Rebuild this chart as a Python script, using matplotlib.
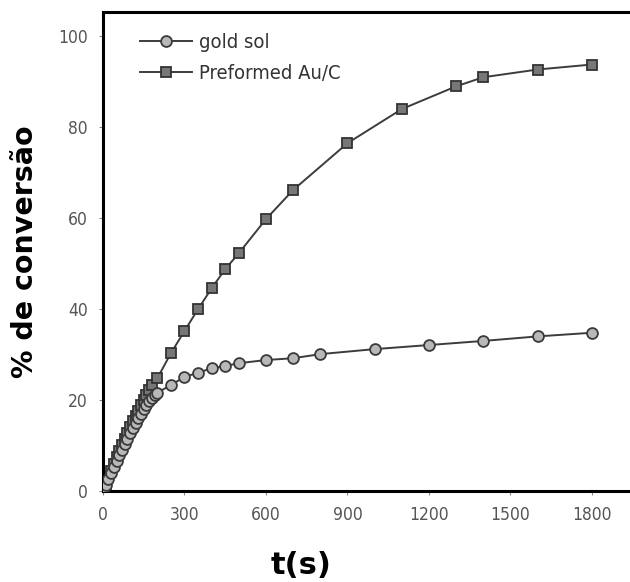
import matplotlib
matplotlib.use("Agg")
import matplotlib.pyplot as plt

# gold sol (circles)
t_gold = [0, 10, 20, 30, 40, 50, 60, 70, 80, 90, 100, 110, 120, 130, 140, 150,
          160, 170, 180, 190, 200, 250, 300, 350, 400, 450, 500, 600, 700, 800,
          1000, 1200, 1400, 1600, 1800]
conv_gold = [0, 1.3, 2.7, 4.0, 5.3, 6.6, 7.9, 9.1, 10.3, 11.5, 12.7, 13.8, 14.9,
             16.0, 17.0, 18.0, 18.9, 19.7, 20.4, 21.0, 21.6, 23.3, 25.1, 26.0,
             27.0, 27.5, 28.1, 28.8, 29.2, 30.1, 31.2, 32.1, 33.0, 34.0, 34.8]

# Preformed Au/C (squares)
t_auc = [0, 10, 20, 30, 40, 50, 60, 70, 80, 90, 100, 110, 120, 130, 140, 150,
         160, 170, 180, 200, 250, 300, 350, 400, 450, 500, 600, 700, 900, 1100,
         1300, 1400, 1600, 1800]
conv_auc = [0, 1.5, 3.0, 4.5, 6.0, 7.4, 8.8, 10.2, 11.5, 12.8, 14.1, 15.3, 16.5,
            17.7, 18.9, 20.0, 21.1, 22.2, 23.3, 24.8, 30.3, 35.2, 40.0, 44.6,
            48.8, 52.3, 59.8, 66.2, 76.5, 84.0, 89.0, 91.0, 92.7, 93.8]

x_ticks = [0, 300, 600, 900, 1200, 1500, 1800]
y_ticks = [0, 20, 40, 60, 80, 100]

fig = plt.figure(figsize=(6.3, 5.82), dpi=100)
ax = fig.add_axes([0.1635, 0.1564, 0.8365, 0.8226])

line_col = "#3c3c3c"
ax.plot(t_gold, conv_gold, "-o", color=line_col, lw=1.4, ms=7.8,
        mfc="#b8b8b8", mec="#3a3a3a", mew=1.3, label="gold sol", zorder=3)
ax.plot(t_auc, conv_auc, "-s", color=line_col, lw=1.4, ms=7.5,
        mfc="#777777", mec="#333333", mew=1.3, label="Preformed Au/C", zorder=2)

ax.set_xlim(0, 1940)
ax.set_ylim(0, 105.3)
ax.set_xticks(x_ticks)
ax.set_yticks(y_ticks)

for s in ["left", "bottom", "top"]:
    ax.spines[s].set_linewidth(2.2)
    ax.spines[s].set_color("black")
ax.spines["right"].set_visible(False)

ax.tick_params(direction="out", length=3, width=0.8, color="#888888",
               labelcolor="#555555", pad=8)
for lab in ax.get_xticklabels() + ax.get_yticklabels():
    lab.set_fontfamily("DejaVu Sans")
    lab.set_fontstretch("condensed")
    lab.set_fontsize(12.5)

# axis labels placed in axes fraction (axes box is 527 x 479 px)
ax.set_xlabel("t(s)", fontsize=22, fontweight="bold")
ax.xaxis.label.set_va("center")
ax.xaxis.set_label_coords((301 - 103) / 527.0, -(566 - 491) / 479.0)
ax.set_ylabel("% de conversão", fontsize=20.5, fontweight="bold")
ax.yaxis.label.set_va("center")
ax.yaxis.set_label_coords(-(103 - 25) / 527.0, 0.5)

leg = ax.legend(loc="upper left", frameon=False, bbox_to_anchor=(0.036, 0.995),
                prop={"family": "DejaVu Sans", "stretch": "condensed", "size": 14.5},
                handlelength=2.6, handletextpad=0.3, labelspacing=0.6,
                labelcolor="#333333")

fig.savefig("out.png", dpi=100)
